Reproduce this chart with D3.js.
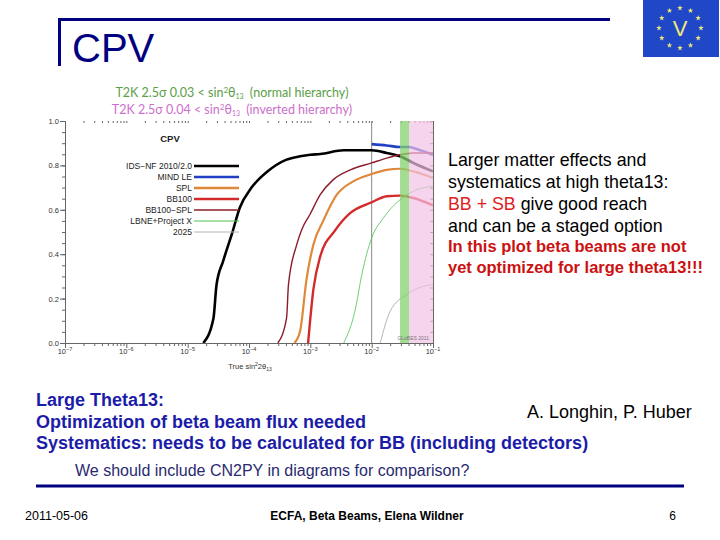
<!DOCTYPE html>
<html>
<head>
<meta charset="utf-8">
<script src="https://cdn.jsdelivr.net/npm/d3@7"></script>
<style>
  body { margin: 0; background: #fff; }
  svg { display: block; font-family: "Liberation Sans", Arial, sans-serif; }
</style>
</head>
<body>
<svg id="slide" width="720" height="540"></svg>
<script>
// series: [true sin^2 2theta13, CP fraction]
const idsNF = [[1.8e-5, 0], [2.63e-5, 0.11], [2.95e-5, 0.26], [3.8e-5, 0.37], [5.25e-5, 0.49], [7.1e-5, 0.61],
  [1.1e-4, 0.70], [1.95e-4, 0.77], [4.1e-4, 0.826], [6.8e-4, 0.841], [1e-3, 0.848], [1.45e-3, 0.851],
  [3.5e-3, 0.868], [1e-2, 0.868], [1.76e-2, 0.856], [2.9e-2, 0.841], [4.8e-2, 0.811], [0.1, 0.773]];
const mindLE = [[1e-2, 0.896], [1.76e-2, 0.89], [2.9e-2, 0.883], [4e-2, 0.883], [6.2e-2, 0.868], [0.1, 0.848]];
const spl = [[5.5e-4, 0], [6.8e-4, 0.053], [8.7e-4, 0.29], [1.12e-3, 0.443], [1.62e-3, 0.55], [2.7e-3, 0.668],
  [5e-3, 0.728], [1e-2, 0.761], [1.76e-2, 0.78], [2.9e-2, 0.785], [4.8e-2, 0.773], [0.1, 0.743]];
const bb100 = [[9.2e-4, 0], [1.12e-3, 0.24], [1.45e-3, 0.39], [2.5e-3, 0.505], [4.5e-3, 0.586], [1e-2, 0.634],
  [1.76e-2, 0.661], [2.9e-2, 0.664], [4.8e-2, 0.653], [0.1, 0.62]];
const bb100spl = [[2.95e-4, 0], [4.1e-4, 0.113], [4.4e-4, 0.263], [6e-4, 0.443], [7.2e-4, 0.509], [9.9e-4, 0.58],
  [1.45e-3, 0.668], [2.37e-3, 0.736], [4.5e-3, 0.78], [1e-2, 0.811], [1.76e-2, 0.833], [2.9e-2, 0.848],
  [4.8e-2, 0.856], [0.1, 0.856]];
const lbne = [[3.5e-3, 0], [5.4e-3, 0.15], [6.9e-3, 0.308], [1e-2, 0.473], [1.55e-2, 0.563], [2.9e-2, 0.645],
  [5.4e-2, 0.69], [0.1, 0.706]];
const y2025 = [[1.38e-2, 0], [2e-2, 0.143], [3.7e-2, 0.218], [6.9e-2, 0.255], [0.1, 0.263]];

const seriesNames = ['IDS\u2212NF 2010/2.0', 'MIND LE', 'SPL', 'BB100', 'BB100\u2212SPL', 'LBNE+Project X', '2025'];
const seriesData = [idsNF, mindLE, spl, bb100, bb100spl, lbne, y2025];
const xDecades = [1e-7, 1e-6, 1e-5, 1e-4, 1e-3, 1e-2, 1e-1];
const yTicks = [0, 0.2, 0.4, 0.6, 0.8, 1.0];
const t2kNormal = [0.029, 0.041];   // green band (sin^2 2theta13)
const t2kInverted = [0.041, 0.1];   // pink band

const colors = ['#000000', '#2240c4', '#e0883a', '#d42a2a', '#8c1c2a', '#4ec24e', '#b4b4b4'];
const widths = [2.6, 2.6, 2.2, 2.4, 1.4, 0.8, 1.0];

const svg = d3.select('#slide');

// ---- slide frame ----
const navy = '#000080';
svg.append('line').attr('x1', 58).attr('x2', 610).attr('y1', 19.5).attr('y2', 19.5)
  .attr('stroke', navy).attr('stroke-width', 3);
svg.append('line').attr('x1', 59.5).attr('x2', 59.5).attr('y1', 18).attr('y2', 66)
  .attr('stroke', navy).attr('stroke-width', 3);
svg.append('text').attr('x', 72).attr('y', 62).attr('fill', navy)
  .style('font-size', '40px').text('CPV');

// logo
const logo = svg.append('g');
logo.append('rect').attr('x', 643).attr('y', 0).attr('width', 76).attr('height', 57).attr('fill', '#1f47c8');
d3.range(12).forEach(i => {
  const a = i * Math.PI / 6;
  logo.append('path')
    .attr('d', d3.symbol(d3.symbolStar, 10)())
    .attr('transform', `translate(${680 + 21 * Math.sin(a)},${28 - 20 * Math.cos(a)})`)
    .attr('fill', '#f2e87a');
});
logo.append('text').attr('x', 680).attr('y', 36).attr('text-anchor', 'middle')
  .attr('fill', '#f2e87a').style('font-size', '22px').text('V');

// ---- plot ----
const pLeft = 65, pRight = 433, pTop = 121, pBottom = 343;
const x = d3.scaleLog().domain([1e-7, 1e-1]).range([pLeft, pRight]);
const y = d3.scaleLinear().domain([0, 1]).range([pBottom, pTop]);

const plot = svg.append('g');
plot.append('clipPath').attr('id', 'clip').append('rect')
  .attr('x', pLeft).attr('y', pTop).attr('width', pRight - pLeft).attr('height', pBottom - pTop);

// T2K headers
const hdr = [['#5a9e48', 97, '0.03', 'normal hierarchy'], ['#cc6fcc', 114, '0.04', 'inverted hierarchy']];
hdr.forEach(([c, yy, v, h]) => {
  const t = plot.append('text').attr('x', 232).attr('y', yy).attr('text-anchor', 'middle')
    .attr('fill', c).style('font-family', 'Lato, sans-serif').style('font-size', '12.5px');
  t.append('tspan').text(`T2K 2.5\u03c3 ${v} < sin`);
  t.append('tspan').attr('dy', -4).style('font-size', '8px').text('2');
  t.append('tspan').attr('dy', 4).text('\u03b8');
  t.append('tspan').attr('dy', 2).style('font-size', '7px').text('13');
  t.append('tspan').attr('dy', -2).text(`\u2002(${h})`);
});

const minorX = [];
xDecades.slice(0, -1).forEach(d => d3.range(2, 10).forEach(k => minorX.push(d * k)));
const minorY = d3.range(0, 1.001, 0.05);
const axisCol = '#666';

function styleAxis(g) {
  g.selectAll('path').attr('stroke', axisCol);
  g.selectAll('line').attr('stroke', axisCol);
}

// minor/major ticks on all four sides
plot.append('g').attr('transform', `translate(0,${pBottom})`)
  .call(d3.axisBottom(x).tickValues(minorX).tickSize(3).tickFormat('')).call(styleAxis);
plot.append('g').attr('transform', `translate(0,${pBottom})`)
  .call(d3.axisBottom(x).tickValues(xDecades).tickSize(5).tickSizeOuter(0).tickFormat('')).call(styleAxis);
plot.append('g').attr('transform', `translate(0,${pTop})`)
  .call(d3.axisBottom(x).tickValues(minorX.concat(xDecades)).tickSize(2).tickFormat(''))
  .call(g => g.select('.domain').remove()).call(styleAxis);
plot.append('g').attr('transform', `translate(${pLeft},0)`)
  .call(d3.axisLeft(y).tickValues(minorY).tickSize(3).tickFormat('')).call(styleAxis);
plot.append('g').attr('transform', `translate(${pLeft},0)`)
  .call(d3.axisLeft(y).tickValues(yTicks).tickSize(5).tickSizeOuter(0).tickFormat(d3.format('.1f')))
  .call(styleAxis)
  .call(g => g.selectAll('text').attr('fill', '#333').style('font-size', '7.5px').attr('x', -6));
plot.append('g').attr('transform', `translate(${pRight},0)`)
  .call(d3.axisLeft(y).tickValues(minorY).tickSize(3).tickSizeOuter(0).tickFormat(''))
  .call(g => g.select('.domain').attr('stroke', '#999')).call(styleAxis);

// decade labels 10^-n
xDecades.forEach(d => {
  const t = plot.append('text').attr('x', x(d)).attr('y', pBottom + 11).attr('text-anchor', 'middle')
    .attr('fill', '#333').style('font-size', '7.5px');
  t.append('tspan').text('10');
  t.append('tspan').attr('dy', -3).style('font-size', '5.5px').text('\u2212' + Math.round(-Math.log10(d)));
});
const xt = plot.append('text').attr('x', 250).attr('y', 369).attr('text-anchor', 'middle')
  .attr('fill', '#333').style('font-size', '7.5px');
xt.append('tspan').text('True sin');
xt.append('tspan').attr('dy', -3).style('font-size', '5px').text('2');
xt.append('tspan').attr('dy', 3).text('2\u03b8');
xt.append('tspan').attr('dy', 2).style('font-size', '5px').text('13');

// vertical reference line at 10^-2
plot.append('line').attr('x1', x(1e-2)).attr('x2', x(1e-2)).attr('y1', pTop).attr('y2', pBottom)
  .attr('stroke', '#888').attr('stroke-width', 1);

// curves
const line = d3.line().x(d => x(d[0])).y(d => y(d[1])).curve(d3.curveMonotoneX);
const curves = plot.append('g').attr('clip-path', 'url(#clip)');
seriesData.forEach((s, i) => {
  curves.append('path').datum(s).attr('d', line).attr('fill', 'none')
    .attr('stroke', colors[i]).attr('stroke-width', widths[i]).attr('stroke-linejoin', 'round');
});

// T2K bands drawn on top
plot.append('rect').attr('x', x(t2kNormal[0])).attr('y', pTop)
  .attr('width', x(t2kNormal[1]) - x(t2kNormal[0])).attr('height', pBottom - pTop)
  .attr('fill', '#86d070').attr('opacity', 0.75);
plot.append('rect').attr('x', x(t2kInverted[0])).attr('y', pTop)
  .attr('width', x(t2kInverted[1]) - x(t2kInverted[0])).attr('height', pBottom - pTop)
  .attr('fill', '#f3c2e6').attr('opacity', 0.7);

// legend
plot.append('text').attr('x', 170).attr('y', 142).attr('text-anchor', 'middle')
  .style('font-size', '9.5px').style('font-weight', 'bold').attr('fill', '#222').text('CPV');
seriesNames.forEach((n, i) => {
  const ly = 166 + i * 11;
  plot.append('line').attr('x1', 194).attr('x2', 239).attr('y1', ly).attr('y2', ly)
    .attr('stroke', colors[i]).attr('stroke-width', i < 4 ? 2.4 : (i === 4 ? 1.6 : 1));
  plot.append('text').attr('x', 192).attr('y', ly + 3).attr('text-anchor', 'end')
    .attr('fill', '#222').style('font-size', '8.5px').text(n);
});
plot.append('text').attr('x', 429).attr('y', 340).attr('text-anchor', 'end')
  .attr('fill', '#777').style('font-size', '5px').text('GLoBES 2011');

// ---- right text ----
const rt = [
  ['Larger matter effects and', 166, '#000', 17.8, 'normal'],
  ['systematics at high theta13:', 188, '#000', 17.8, 'normal'],
  [null, 210, '#000', 17.8, 'normal'],
  ['and can be a staged option', 232, '#000', 17.8, 'normal'],
  ['In this plot beta beams are not', 252, '#cc1111', 16.5, 'bold'],
  ['yet optimized for large theta13!!!', 273, '#cc1111', 16.5, 'bold']
];
rt.forEach(([s, yy, c, fs, fw]) => {
  const t = svg.append('text').attr('x', 448).attr('y', yy).attr('fill', c)
    .style('font-size', fs + 'px').style('font-weight', fw);
  if (s) t.text(s);
  else {
    t.append('tspan').attr('fill', '#e02020').text('BB + SB');
    t.append('tspan').text(' give good reach');
  }
});

// ---- bottom text ----
const blue = '#1c1ca8';
['Large Theta13:', 'Optimization of beta beam flux needed',
  'Systematics: needs to be calculated for BB (including detectors)'].forEach((s, i) => {
  svg.append('text').attr('x', 36).attr('y', 406 + i * 21.5).attr('fill', blue)
    .style('font-size', '18px').style('font-weight', 'bold').text(s);
});
svg.append('text').attr('x', 527).attr('y', 418).attr('fill', '#000')
  .style('font-size', '18px').text('A. Longhin, P. Huber');
svg.append('text').attr('x', 75).attr('y', 476).attr('fill', '#2a2a70')
  .style('font-size', '16px').text('We should include CN2PY in diagrams for comparison?');
svg.append('line').attr('x1', 36).attr('x2', 684).attr('y1', 486).attr('y2', 486)
  .attr('stroke', navy).attr('stroke-width', 3);
svg.append('text').attr('x', 25).attr('y', 520).style('font-size', '12.5px').text('2011-05-06');
svg.append('text').attr('x', 367).attr('y', 520).attr('text-anchor', 'middle')
  .style('font-size', '12px').style('font-weight', 'bold').text('ECFA, Beta Beams, Elena Wildner');
svg.append('text').attr('x', 676).attr('y', 520).attr('text-anchor', 'end')
  .style('font-size', '12px').text('6');
</script>
</body>
</html>
